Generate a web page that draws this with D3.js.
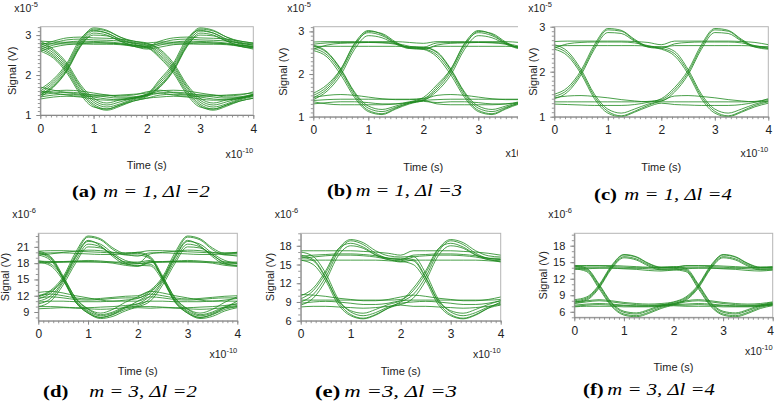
<!DOCTYPE html>
<html><head><meta charset="utf-8">
<script src="https://cdn.jsdelivr.net/npm/d3@7"></script>
<style>
html,body{margin:0;padding:0;background:#fff;}
svg{display:block;}
.tick text{font-family:"Liberation Sans",Arial,sans-serif;font-size:11px;fill:#222;}
</style></head>
<body><svg id="chart" width="775" height="402"></svg>
<script>
// ---------- DATA ----------
const sampleTimes = [0, 0.25, 0.5, 0.75, 1, 1.25, 1.5, 1.75, 2]; // x10^-10 s, one eye window
const windowStarts = [0, 2];
const xTickLabels = [0, 1, 2, 3, 4];

// (a) m=1, Δl=2   (x10^-5 V)
const aHigh = [
  [2.75, 2.85, 2.93, 2.95, 2.93, 2.92, 2.9, 2.85, 2.8],
  [2.7, 2.8, 2.88, 2.9, 2.88, 2.87, 2.85, 2.8, 2.75],
  [2.65, 2.75, 2.82, 2.85, 2.84, 2.83, 2.8, 2.75, 2.7],
  [2.8, 2.78, 2.78, 2.78, 2.77, 2.77, 2.76, 2.72, 2.68],
  [2.85, 2.83, 2.82, 2.82, 2.82, 2.8, 2.78, 2.74, 2.72],
  [2.6, 2.7, 2.76, 2.78, 2.8, 2.8, 2.78, 2.72, 2.65]
];
const aRise = [
  [1.5, 1.75, 2.15, 2.75, 3.1, 3.05, 2.9, 2.8, 2.75],
  [1.55, 1.8, 2.2, 2.8, 3.15, 3.1, 2.95, 2.82, 2.78],
  [1.6, 1.85, 2.25, 2.85, 3.18, 3.12, 2.95, 2.85, 2.8],
  [1.45, 1.7, 2.1, 2.7, 3.05, 3.0, 2.85, 2.75, 2.72],
  [1.65, 1.9, 2.3, 2.9, 3.12, 3.05, 2.88, 2.78, 2.7],
  [1.5, 1.72, 2.12, 2.72, 3.0, 2.98, 2.85, 2.72, 2.68]
];
const aFall = [
  [2.75, 2.55, 2.2, 1.68, 1.32, 1.2, 1.28, 1.4, 1.48],
  [2.7, 2.5, 2.15, 1.62, 1.27, 1.15, 1.25, 1.38, 1.46],
  [2.65, 2.46, 2.1, 1.57, 1.23, 1.12, 1.22, 1.35, 1.42],
  [2.8, 2.6, 2.25, 1.72, 1.37, 1.25, 1.33, 1.42, 1.5],
  [2.85, 2.64, 2.3, 1.77, 1.42, 1.3, 1.38, 1.45, 1.52],
  [2.6, 2.42, 2.05, 1.52, 1.2, 1.15, 1.25, 1.35, 1.42]
];
const aLow = [
  [1.55, 1.6, 1.62, 1.6, 1.55, 1.5, 1.45, 1.45, 1.5],
  [1.5, 1.55, 1.57, 1.55, 1.5, 1.45, 1.42, 1.43, 1.48],
  [1.45, 1.5, 1.52, 1.5, 1.45, 1.4, 1.38, 1.42, 1.5],
  [1.4, 1.45, 1.47, 1.45, 1.4, 1.37, 1.38, 1.42, 1.52],
  [1.6, 1.55, 1.5, 1.47, 1.47, 1.48, 1.5, 1.52, 1.55],
  [1.7, 1.62, 1.56, 1.52, 1.5, 1.5, 1.48, 1.5, 1.58]
];

// (b) m=1, Δl=3   (x10^-5 V)
const bHigh = [
  [2.75, 2.76, 2.76, 2.76, 2.76, 2.76, 2.76, 2.74, 2.72],
  [2.65, 2.65, 2.65, 2.65, 2.65, 2.65, 2.65, 2.64, 2.63],
  [2.58, 2.68, 2.72, 2.73, 2.74, 2.74, 2.72, 2.65, 2.6],
  [2.7, 2.73, 2.74, 2.74, 2.74, 2.73, 2.7, 2.62, 2.58]
];
const bRise = [
  [1.45, 1.65, 2.05, 2.65, 3.0, 2.95, 2.75, 2.6, 2.58],
  [1.5, 1.7, 2.1, 2.7, 2.97, 2.9, 2.72, 2.62, 2.6],
  [1.4, 1.6, 1.98, 2.58, 2.9, 2.85, 2.7, 2.6, 2.62],
  [1.55, 1.75, 2.12, 2.72, 3.02, 2.93, 2.73, 2.63, 2.63]
];
const bFall = [
  [2.6, 2.45, 2.05, 1.5, 1.15, 1.07, 1.2, 1.32, 1.38],
  [2.65, 2.5, 2.1, 1.55, 1.2, 1.12, 1.22, 1.32, 1.38],
  [2.55, 2.4, 1.98, 1.45, 1.12, 1.05, 1.18, 1.3, 1.36],
  [2.68, 2.52, 2.12, 1.58, 1.25, 1.17, 1.25, 1.34, 1.4]
];
const bLow = [
  [1.45, 1.5, 1.52, 1.5, 1.46, 1.42, 1.4, 1.4, 1.42],
  [1.38, 1.4, 1.41, 1.41, 1.41, 1.41, 1.41, 1.41, 1.43],
  [1.3, 1.33, 1.35, 1.35, 1.33, 1.3, 1.3, 1.33, 1.38],
  [1.35, 1.3, 1.28, 1.28, 1.28, 1.28, 1.3, 1.35, 1.45]
];

// (c) m=1, Δl=4   (x10^-5 V)
const cHigh = [
  [2.67, 2.68, 2.68, 2.68, 2.68, 2.68, 2.67, 2.65, 2.6],
  [2.57, 2.58, 2.58, 2.58, 2.58, 2.58, 2.58, 2.57, 2.55],
  [2.52, 2.62, 2.65, 2.66, 2.66, 2.66, 2.64, 2.58, 2.52]
];
const cRise = [
  [1.45, 1.6, 1.98, 2.55, 2.93, 2.9, 2.7, 2.55, 2.5],
  [1.5, 1.65, 2.03, 2.6, 2.96, 2.92, 2.72, 2.56, 2.52],
  [1.4, 1.55, 1.93, 2.5, 2.87, 2.85, 2.68, 2.55, 2.55]
];
const cFall = [
  [2.55, 2.4, 2.0, 1.45, 1.12, 1.02, 1.12, 1.25, 1.33],
  [2.5, 2.35, 1.95, 1.4, 1.08, 1.0, 1.1, 1.22, 1.3],
  [2.6, 2.45, 2.05, 1.5, 1.17, 1.08, 1.17, 1.28, 1.35]
];
const cLow = [
  [1.42, 1.46, 1.47, 1.45, 1.42, 1.38, 1.35, 1.33, 1.35],
  [1.33, 1.33, 1.33, 1.33, 1.33, 1.33, 1.33, 1.34, 1.38],
  [1.28, 1.27, 1.26, 1.25, 1.25, 1.25, 1.27, 1.32, 1.4]
];

// (d) m=3, Δl=2   (x10^-6 V)
const dHigh = [
  [20.2, 20.3, 20.3, 20.2, 20.1, 20.0, 19.9, 19.9, 20.0],
  [19.8, 19.9, 19.9, 19.8, 19.7, 19.6, 19.6, 19.7, 19.8],
  [19.5, 19.7, 20.0, 20.2, 20.4, 20.3, 20.0, 19.6, 19.3],
  [18.2, 18.2, 18.2, 18.2, 18.2, 18.2, 18.2, 18.2, 18.2],
  [18.0, 18.1, 18.2, 18.3, 18.3, 18.2, 18.0, 17.6, 17.4],
  [18.4, 18.3, 18.3, 18.4, 18.5, 18.4, 18.2, 17.9, 17.9]
];
const dRise = [
  [11.0, 12.0, 14.8, 19.0, 22.0, 21.5, 19.8, 18.5, 18.0],
  [11.5, 12.5, 15.2, 19.5, 22.8, 22.3, 20.5, 19.5, 19.5],
  [10.5, 11.5, 14.5, 18.5, 21.5, 21.0, 19.5, 18.2, 18.0],
  [12.0, 13.0, 15.5, 20.0, 23.0, 22.5, 20.8, 19.8, 20.0],
  [10.0, 11.0, 14.0, 18.0, 21.0, 20.8, 19.5, 18.0, 17.5],
  [11.8, 12.8, 15.0, 19.2, 22.2, 21.2, 19.2, 17.8, 17.6]
];
const dFall = [
  [19.8, 18.8, 15.2, 11.0, 9.0, 8.0, 8.5, 9.5, 10.0],
  [20.2, 19.2, 15.6, 11.5, 9.5, 8.5, 9.0, 10.0, 10.5],
  [18.2, 17.5, 14.8, 10.8, 8.8, 8.0, 8.6, 9.8, 11.0],
  [19.5, 18.5, 15.0, 10.8, 8.8, 7.8, 8.2, 9.2, 9.8],
  [18.4, 17.8, 15.4, 11.6, 9.6, 8.8, 9.5, 10.8, 11.8],
  [20.0, 19.0, 15.3, 11.2, 9.2, 8.3, 8.8, 9.8, 10.2]
];
const dLow = [
  [12.0, 12.3, 12.0, 11.6, 11.4, 11.5, 11.7, 11.9, 12.0],
  [11.5, 11.8, 11.6, 11.3, 11.2, 11.3, 11.5, 11.6, 11.6],
  [10.8, 11.0, 11.0, 10.9, 10.9, 10.9, 11.0, 11.0, 11.0],
  [10.0, 10.0, 9.9, 9.8, 9.8, 9.9, 10.0, 10.2, 10.5],
  [9.6, 9.7, 9.8, 9.7, 9.6, 9.5, 9.6, 9.8, 10.0],
  [12.6, 12.8, 12.5, 12.0, 11.6, 11.2, 11.0, 11.2, 11.5]
];

// (e) m=3, Δl=3   (x10^-6 V)
const eHigh = [
  [17.2, 17.2, 17.2, 17.2, 17.2, 17.1, 17.0, 16.8, 16.5],
  [16.3, 16.5, 16.6, 16.7, 16.7, 16.6, 16.4, 16.0, 15.8],
  [15.7, 15.7, 15.7, 15.7, 15.7, 15.7, 15.7, 15.6, 15.5],
  [16.0, 16.2, 16.4, 16.5, 16.5, 16.4, 16.2, 15.8, 15.4]
];
const eRise = [
  [9.0, 10.2, 13.0, 17.0, 18.8, 18.2, 16.8, 16.0, 15.8],
  [9.5, 10.8, 13.6, 17.4, 19.0, 18.5, 17.2, 16.4, 16.2],
  [8.5, 9.6, 12.4, 16.4, 18.0, 17.6, 16.5, 15.8, 15.6],
  [10.0, 11.2, 14.0, 17.5, 18.4, 17.8, 16.6, 16.0, 16.0]
];
const eFall = [
  [16.5, 15.8, 13.0, 9.0, 7.0, 6.4, 7.0, 8.0, 8.5],
  [17.0, 16.3, 13.6, 9.5, 7.4, 6.8, 7.3, 8.2, 8.8],
  [15.7, 15.0, 12.4, 8.6, 6.8, 6.3, 6.9, 8.0, 9.0],
  [16.2, 15.6, 12.8, 9.2, 7.6, 7.2, 7.8, 8.6, 9.2]
];
const eLow = [
  [9.3, 9.3, 9.3, 9.3, 9.3, 9.3, 9.3, 9.3, 9.4],
  [8.2, 8.3, 8.3, 8.2, 8.1, 8.0, 8.1, 8.3, 8.6],
  [10.2, 10.1, 9.9, 9.6, 9.4, 9.2, 9.2, 9.4, 9.8],
  [8.8, 9.0, 9.1, 9.0, 8.8, 8.6, 8.6, 8.8, 9.2]
];

// (f) m=3, Δl=4   (x10^-6 V)
const fHigh = [
  [14.2, 14.3, 14.3, 14.2, 14.1, 14.0, 14.0, 14.0, 14.1],
  [13.9, 14.0, 14.0, 14.0, 13.9, 13.9, 13.8, 13.7, 13.8],
  [14.4, 14.4, 14.4, 14.4, 14.3, 14.2, 14.1, 14.1, 14.2],
  [13.7, 13.8, 13.9, 13.9, 13.8, 13.7, 13.5, 13.4, 13.6]
];
const fRise = [
  [7.8, 8.3, 10.5, 14.0, 16.0, 15.6, 14.5, 13.8, 13.8],
  [8.0, 8.5, 10.7, 14.2, 16.3, 15.9, 14.7, 14.0, 14.0],
  [7.6, 8.1, 10.3, 13.8, 15.8, 15.4, 14.3, 13.6, 13.6],
  [8.2, 8.7, 10.9, 14.4, 16.4, 16.0, 14.8, 14.1, 14.1]
];
const fFall = [
  [14.0, 13.5, 10.5, 7.2, 5.6, 5.3, 5.9, 6.8, 7.3],
  [14.2, 13.7, 10.8, 7.5, 5.9, 5.6, 6.2, 7.0, 7.5],
  [13.8, 13.3, 10.2, 7.0, 5.4, 5.1, 5.7, 6.6, 7.1],
  [14.4, 13.9, 11.0, 7.7, 6.1, 5.8, 6.4, 7.2, 7.7]
];
const fLow = [
  [7.5, 7.8, 8.0, 7.8, 7.5, 7.3, 7.2, 7.3, 7.5],
  [7.2, 7.4, 7.5, 7.4, 7.2, 7.1, 7.1, 7.2, 7.4],
  [7.0, 7.2, 7.3, 7.2, 7.1, 7.0, 7.0, 7.1, 7.3],
  [7.8, 8.0, 8.2, 8.0, 7.7, 7.5, 7.4, 7.5, 7.8],
  [6.9, 7.0, 7.0, 7.0, 6.9, 6.9, 6.9, 7.0, 7.2]
];

const yDomains = [[1, 3.21], [1, 3.11], [1, 3], [7.4, 23.5], [6, 20], [5, 20.25]];
const yMajorTicks = [[1, 2, 3], [1, 2, 3], [1, 2, 3], [9, 12, 15, 18, 21], [6, 9, 12, 15, 18], [6, 9, 12, 15, 18]];
const yMinorSteps = [0.1, 0.1, 0.1, 1, 1, 1];
const yExponents = ["-5", "-5", "-5", "-6", "-6", "-6"];
const captionTags = ["(a)", "(b)", "(c)", "(d)", "(e)", "(f)"];
const captionTexts = ["m = 1, \u0394l =2", "m = 1, \u0394l =3", "m = 1, \u0394l =4",
                      "m = 3, \u0394l =2", "m =3, \u0394l =3", "m = 3, \u0394l =4"];
const panelData = [
  {high: aHigh, rise: aRise, fall: aFall, low: aLow},
  {high: bHigh, rise: bRise, fall: bFall, low: bLow},
  {high: cHigh, rise: cRise, fall: cFall, low: cLow},
  {high: dHigh, rise: dRise, fall: dFall, low: dLow},
  {high: eHigh, rise: eRise, fall: eFall, low: eLow},
  {high: fHigh, rise: fRise, fall: fFall, low: fLow}
];

// ---------- LAYOUT ----------
const layout = [
  {l: 40.3, r: 253.3, t: 26.7, b: 115, clip: null, sigX: 28, expB: 43, capL: 72, capW: 138, capY: 197, gap: 6},
  {l: 313.3, r: 533.3, t: 26.7, b: 116.7, clip: 518, sigX: 30, expB: 40, capL: 327, capW: 135, capY: 196, gap: 3},
  {l: 554.3, r: 768.3, t: 26.7, b: 116.7, clip: null, sigX: 21, expB: 40, capL: 594, capW: 138, capY: 200, gap: 6},
  {l: 38.3, r: 237.3, t: 233.3, b: 320.7, clip: null, sigX: 33, expB: 37, capL: 43, capW: 154, capY: 397, gap: 17},
  {l: 300.7, r: 500.7, t: 233.3, b: 320.7, clip: null, sigX: 31, expB: 37, capL: 315, capW: 142, capY: 397, gap: 3},
  {l: 574.3, r: 772.7, t: 233.3, b: 317.3, clip: null, sigX: 31, expB: 38, capL: 583, capW: 132, capY: 395, gap: 3}
];
const traceColor = "#1f8a1f";
const sansFont = "'Liberation Sans', Arial, sans-serif";
const serifFont = "'Liberation Serif', 'Times New Roman', serif";

// Join window-1 traces to window-2 traces (ending level -> starting level), by rank.
function joinWindows(d) {
  const last = sampleTimes.length - 1;
  const pairs = [];
  const link = (ends, starts) => {
    const e = ends.slice().sort((p, q) => p[last] - q[last]);
    const s = starts.slice().sort((p, q) => p[0] - q[0]);
    e.forEach((tr, i) => pairs.push([tr, s[i]]));
  };
  link(d.high.concat(d.rise), d.high.concat(d.fall));
  link(d.low.concat(d.fall), d.low.concat(d.rise));
  return pairs.map(([A, B]) => {
    const pts = A.map((v, i) => [sampleTimes[i] + windowStarts[0], v]);
    B.forEach((v, i) => { if (i > 0) pts.push([sampleTimes[i] + windowStarts[1], v]); });
    return pts;
  });
}

const svg = d3.select("#chart");
const defs = svg.append("defs");

layout.forEach((L, p) => {
  const g = svg.append("g");
  if (L.clip) {
    defs.append("clipPath").attr("id", "pclip" + p)
      .append("rect").attr("x", 0).attr("y", 0).attr("width", L.clip).attr("height", 402);
    g.attr("clip-path", "url(#pclip" + p + ")");
  }
  const x = d3.scaleLinear().domain([0, 4]).range([L.l, L.r]);
  const y = d3.scaleLinear().domain(yDomains[p]).range([L.b, L.t]);

  defs.append("clipPath").attr("id", "area" + p)
    .append("rect").attr("x", L.l).attr("y", L.t).attr("width", L.r - L.l).attr("height", L.b - L.t);

  // frame
  g.append("rect").attr("x", L.l).attr("y", L.t).attr("width", L.r - L.l).attr("height", L.b - L.t)
    .attr("fill", "none").attr("stroke", "#b5b5b5").attr("stroke-width", 1);

  // traces
  const tg = g.append("g").attr("clip-path", "url(#area" + p + ")");
  const line = d3.line().x(d => x(d[0])).y(d => y(d[1])).curve(d3.curveMonotoneX);
  joinWindows(panelData[p]).forEach(pts => {
    tg.append("path").attr("d", line(pts))
      .attr("fill", "none").attr("stroke", traceColor)
      .attr("stroke-width", 0.9).attr("stroke-opacity", 0.9);
  });

  // minor ticks
  const [y0, y1] = yDomains[p];
  const step = yMinorSteps[p];
  const yMinor = d3.range(Math.ceil(y0 / step - 1e-6), Math.floor(y1 / step + 1e-6) + 1).map(k => +(k * step).toFixed(3));
  const xMinor = d3.range(0, 41).map(k => k / 10);
  const axMinY = g.append("g").attr("transform", `translate(${L.l},0)`)
    .call(d3.axisLeft(y).tickValues(yMinor).tickSize(2.5).tickFormat("").tickSizeOuter(0));
  axMinY.select(".domain").remove();
  axMinY.selectAll("line").attr("stroke", "#999");
  const axMinX = g.append("g").attr("transform", `translate(0,${L.b})`)
    .call(d3.axisBottom(x).tickValues(xMinor).tickSize(2.5).tickFormat("").tickSizeOuter(0));
  axMinX.select(".domain").remove();
  axMinX.selectAll("line").attr("stroke", "#999");

  // major axes
  const axY = g.append("g").attr("transform", `translate(${L.l},0)`)
    .call(d3.axisLeft(y).tickValues(yMajorTicks[p]).tickFormat(d => String(d)).tickSize(4).tickPadding(5).tickSizeOuter(0));
  axY.select(".domain").attr("stroke", "#888");
  axY.selectAll("line").attr("stroke", "#888");
  const axX = g.append("g").attr("transform", `translate(0,${L.b})`)
    .call(d3.axisBottom(x).tickValues(xTickLabels).tickFormat(d => String(d)).tickSize(4).tickPadding(5).tickSizeOuter(0));
  axX.select(".domain").attr("stroke", "#888");
  axX.selectAll("line").attr("stroke", "#888");
  axX.selectAll("text").style("font-size", "12px");
  axX.selectAll("text").filter(d => x(d) + 4 > 774).attr("dx", function(d) { return (774 - (x(d) + 4)) + "px"; });

  // y exponent label
  const ex = g.append("text").attr("x", L.l - 26).attr("y", L.t - 15)
    .attr("font-family", sansFont).attr("font-size", 10.5).attr("fill", "#222");
  ex.append("tspan").text("x10");
  ex.append("tspan").attr("dy", -5).attr("font-size", 7.5).text(yExponents[p]);

  // x exponent label
  const xe = g.append("text").attr("x", L.r).attr("y", L.b + L.expB).attr("text-anchor", "end")
    .attr("font-family", sansFont).attr("font-size", 10.5).attr("fill", "#222");
  xe.append("tspan").text("x10");
  xe.append("tspan").attr("dy", -5).attr("font-size", 7.5).text("-10");

  // axis titles
  g.append("text").attr("x", (L.l + L.r) / 2).attr("y", L.b + 54).attr("text-anchor", "middle")
    .attr("font-family", sansFont).attr("font-size", 11).attr("fill", "#222").text("Time (s)");
  g.append("text").attr("transform", `translate(${L.l - L.sigX},${(L.t + L.b) / 2}) rotate(-90)`)
    .attr("text-anchor", "middle").attr("dominant-baseline", "central")
    .attr("font-family", sansFont).attr("font-size", 11).attr("fill", "#222").text("Signal (V)");

  // caption (horizontally stretched like the reference)
  const capG = g.append("g");
  const cap = capG.append("text").attr("x", 0).attr("y", 0)
    .attr("font-family", serifFont).attr("font-size", 17).attr("fill", "#000");
  cap.append("tspan").attr("font-weight", "bold").text(captionTags[p]);
  cap.append("tspan").attr("dx", L.gap).attr("font-style", "italic").text(captionTexts[p]);
  const w = cap.node().getComputedTextLength() + L.gap;
  const s = w > 0 ? L.capW / w : 1;
  capG.attr("transform", `translate(${L.capL},${L.capY}) scale(${s},1)`);
});
</script>
</body></html>
